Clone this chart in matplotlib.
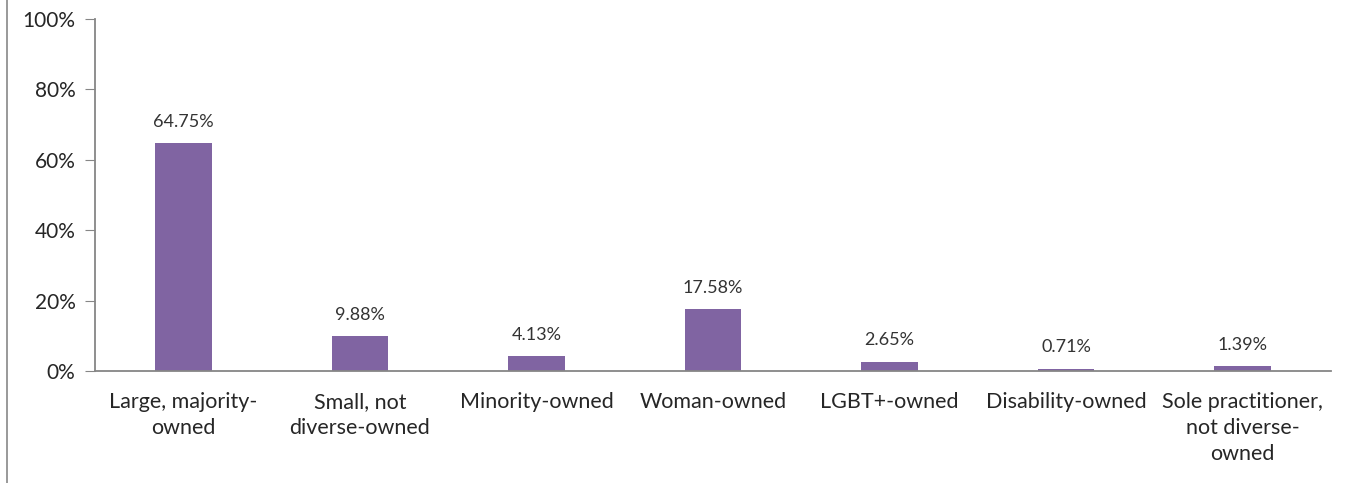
import matplotlib
matplotlib.use("Agg")
import matplotlib.pyplot as plt
from matplotlib.lines import Line2D
from matplotlib.ticker import FuncFormatter

categories = ["Large, majority-\nowned", "Small, not\ndiverse-owned", "Minority-owned",
              "Woman-owned", "LGBT+-owned", "Disability-owned",
              "Sole practitioner,\nnot diverse-\nowned"]
values = [64.75, 9.88, 4.13, 17.58, 2.65, 0.71, 1.39]
yticks = [0, 20, 40, 60, 80, 100]

plt.rcParams['font.family'] = ['Lato', 'DejaVu Sans']

fig = plt.figure(figsize=(13.56, 4.83), dpi=100)
ax = fig.add_axes([95/1356, 1-371/483, (1331-95)/1356, (371-19)/483])

x = list(range(len(categories)))
ax.bar(x, values, width=0.32, color="#8064A2")
for xi, v in zip(x, values):
    ax.text(xi, v + 3.8, f"{v:.2f}%", ha="center", va="bottom", fontsize=13, color="#333333")

ax.set_xlim(-0.5, len(categories) - 0.5)
ax.set_ylim(0, 100)
ax.set_yticks(yticks)
ax.yaxis.set_major_formatter(FuncFormatter(lambda v, p: f"{v:.0f}%"))
ax.set_xticks(x)
ax.set_xticklabels(categories, fontsize=15.5, color="#262626", linespacing=1.38)
ax.tick_params(axis="x", length=0, pad=15)
ax.tick_params(axis="y", length=7, color="#868686", labelsize=15, labelcolor="#262626", pad=7)
for s in ["top", "right"]:
    ax.spines[s].set_visible(False)
for s in ["left", "bottom"]:
    ax.spines[s].set_color("#868686")
    ax.spines[s].set_linewidth(1.3)

fig.add_artist(Line2D([7/1356, 7/1356], [0, 1], transform=fig.transFigure, color="#888888", linewidth=1.2))

fig.savefig("out.png", dpi=100)
